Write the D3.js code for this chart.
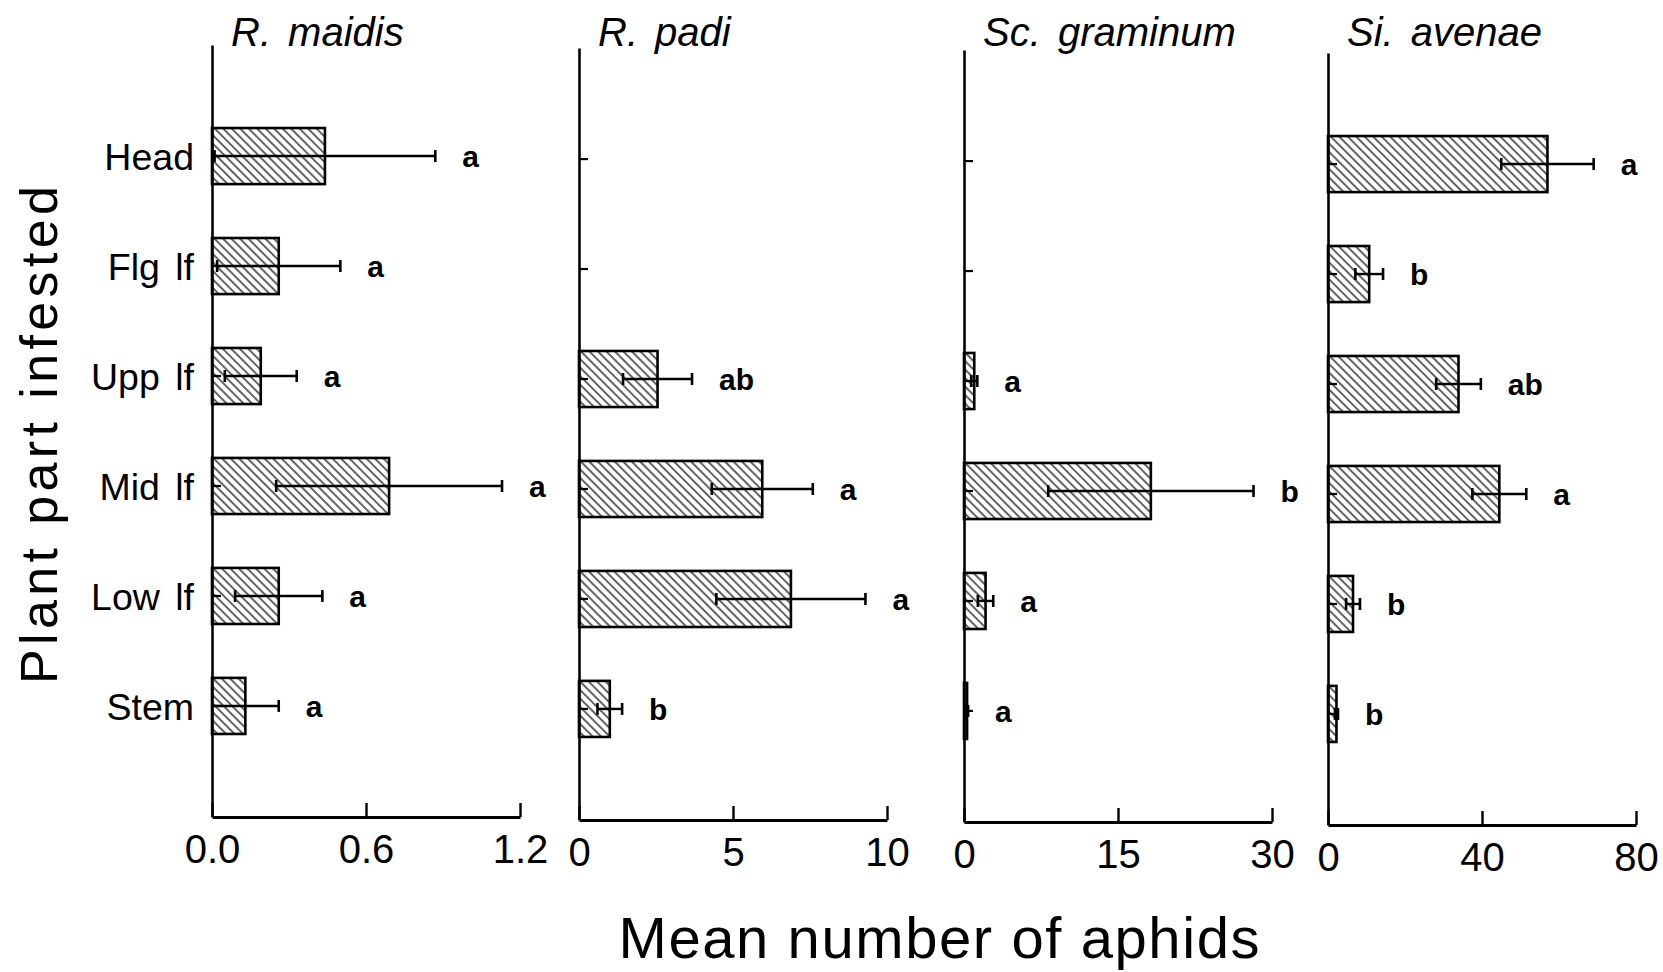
<!DOCTYPE html>
<html>
<head>
<meta charset="utf-8">
<script src="https://cdn.jsdelivr.net/npm/d3@7"></script>
<style>
  body { margin: 0; background: #fff; }
  svg { display: block; font-family: "Liberation Sans", Arial, sans-serif; }
</style>
</head>
<body>
<div id="chart"></div>
<script>
var categories = ["Head", "Flg lf", "Upp lf", "Mid lf", "Low lf", "Stem"];
var species = ["R. maidis", "R. padi", "Sc. graminum", "Si. avenae"];

var axisMax = [1.2, 10, 30, 80];
var tickValues = [[0, 0.6, 1.2], [0, 5, 10], [0, 15, 30], [0, 40, 80]];
var tickLabels = [["0.0", "0.6", "1.2"], ["0", "5", "10"], ["0", "15", "30"], ["0", "40", "80"]];

// means and standard errors per plant part (null = no aphids found)
var maidisMean = [0.44, 0.26, 0.19, 0.69, 0.26, 0.13];
var maidisSE = [0.43, 0.24, 0.14, 0.44, 0.17, 0.13];
var padiMean = [null, null, 2.55, 5.95, 6.88, 1.0];
var padiSE = [null, null, 1.12, 1.64, 2.42, 0.4];
var graminumMean = [null, null, 1.0, 18.2, 2.1, 0.3];
var graminumSE = [null, null, 0.3, 10.0, 0.75, 0.1];
var avenaeMean = [57, 10.7, 33.9, 44.5, 6.5, 2.2];
var avenaeSE = [12, 3.6, 5.8, 7.0, 1.8, 0.4];

var maidisLetters = ["a", "a", "a", "a", "a", "a"];
var padiLetters = ["", "", "ab", "a", "a", "b"];
var graminumLetters = ["", "", "a", "b", "a", "a"];
var avenaeLetters = ["a", "b", "ab", "a", "b", "b"];

var means = [maidisMean, padiMean, graminumMean, avenaeMean];
var errors = [maidisSE, padiSE, graminumSE, avenaeSE];
var letters = [maidisLetters, padiLetters, graminumLetters, avenaeLetters];

// layout
var width = 1663, height = 972;
var panelLeft = [212, 579, 964, 1328];
var panelWidth = 308;
var panelShift = [0, 3, 5, 8];   // the scan is slightly tilted
var plotTop = 45, plotBottom = 817;

var svg = d3.select("#chart").append("svg")
    .attr("width", width)
    .attr("height", height);

var pattern = svg.append("defs").append("pattern")
    .attr("id", "hatch")
    .attr("patternUnits", "userSpaceOnUse")
    .attr("width", 6)
    .attr("height", 6)
    .attr("patternTransform", "rotate(-45)");
pattern.append("rect")
    .attr("width", 6).attr("height", 6).attr("fill", "#fff");
pattern.append("line")
    .attr("x1", 1).attr("y1", 0).attr("x2", 1).attr("y2", 6)
    .attr("stroke", "#111").attr("stroke-width", 1.3);

var y = d3.scaleBand()
    .domain(categories)
    .range([plotTop, plotBottom])
    .paddingInner(0.49)
    .paddingOuter(0.755);

species.forEach(function(name, p) {
    var x = d3.scaleLinear()
        .domain([0, axisMax[p]])
        .range([0, panelWidth]);

    var g = svg.append("g")
        .attr("transform", "translate(" + panelLeft[p] + "," + panelShift[p] + ")");

    var rows = categories.map(function(c, i) {
        return { cat: c, mean: means[p][i], se: errors[p][i], letter: letters[p][i] };
    }).filter(d => d.mean !== null);

    // bars
    g.selectAll(".bar")
        .data(rows)
        .enter()
        .append("rect")
        .attr("class", "bar")
        .attr("x", 0)
        .attr("y", d => y(d.cat))
        .attr("width", d => x(d.mean))
        .attr("height", y.bandwidth())
        .attr("fill", "url(#hatch)")
        .attr("stroke", "#000")
        .attr("stroke-width", 2.6);

    // error bars
    var eb = g.selectAll(".err")
        .data(rows)
        .enter()
        .append("g")
        .attr("class", "err")
        .attr("transform", d => "translate(0," + (y(d.cat) + y.bandwidth() / 2) + ")");

    eb.append("line")
        .attr("x1", d => x(Math.max(0, d.mean - d.se)))
        .attr("x2", d => x(d.mean + d.se))
        .attr("stroke", "#000")
        .attr("stroke-width", 2.4);
    eb.append("line")
        .attr("x1", d => x(d.mean + d.se))
        .attr("x2", d => x(d.mean + d.se))
        .attr("y1", -6).attr("y2", 6)
        .attr("stroke", "#000")
        .attr("stroke-width", 2.6);
    eb.filter(d => d.mean - d.se > 0)
        .append("line")
        .attr("x1", d => x(d.mean - d.se))
        .attr("x2", d => x(d.mean - d.se))
        .attr("y1", -6).attr("y2", 6)
        .attr("stroke", "#000")
        .attr("stroke-width", 2.6);

    // significance letters
    eb.append("text")
        .attr("x", d => x(d.mean + d.se) + 27)
        .attr("y", 11)
        .attr("font-size", 30)
        .attr("font-weight", "bold")
        .attr("fill", "#000")
        .text(d => d.letter);

    // y axis, ticks pointing into the panel
    var yAxis = d3.axisLeft(y)
        .tickSizeInner(-9)
        .tickSizeOuter(0)
        .tickPadding(18);
    if (p > 0) yAxis.tickFormat("");
    var ya = g.append("g").call(yAxis);
    ya.select(".domain").attr("stroke-width", 2.6);
    ya.selectAll(".tick line").attr("stroke-width", 2.2);
    ya.selectAll("text")
        .attr("font-size", 37.5)
        .attr("word-spacing", 5)
        .attr("dy", "0.38em")
        .attr("fill", "#000")
        .attr("font-family", "'Liberation Sans', Arial, sans-serif");

    // x axis
    var xAxis = d3.axisBottom(x)
        .tickValues(tickValues[p])
        .tickFormat((d, i) => tickLabels[p][i])
        .tickSizeInner(-14)
        .tickSizeOuter(0)
        .tickPadding(18);
    var xa = g.append("g")
        .attr("transform", "translate(0," + plotBottom + ")")
        .call(xAxis);
    xa.select(".domain").attr("stroke-width", 3);
    xa.selectAll(".tick line").attr("stroke-width", 2.4);
    xa.selectAll("text")
        .attr("font-size", 40)
        .attr("fill", "#000")
        .attr("font-family", "'Liberation Sans', Arial, sans-serif");

    // panel title
    g.append("text")
        .attr("x", 19)
        .attr("y", 46 - panelShift[p])
        .attr("font-size", 40)
        .attr("font-style", "italic")
        .attr("word-spacing", 6)
        .attr("fill", "#000")
        .text(name);
});

svg.append("text")
    .attr("transform", "translate(57,435) rotate(-90)")
    .attr("text-anchor", "middle")
    .attr("font-size", 52)
    .attr("textLength", 498)
    .attr("lengthAdjust", "spacing")
    .attr("fill", "#000")
    .text("Plant part infested");

svg.append("text")
    .attr("x", 939)
    .attr("y", 958)
    .attr("text-anchor", "middle")
    .attr("font-size", 58)
    .attr("textLength", 641)
    .attr("lengthAdjust", "spacing")
    .attr("fill", "#000")
    .text("Mean number of aphids");
</script>
</body>
</html>
